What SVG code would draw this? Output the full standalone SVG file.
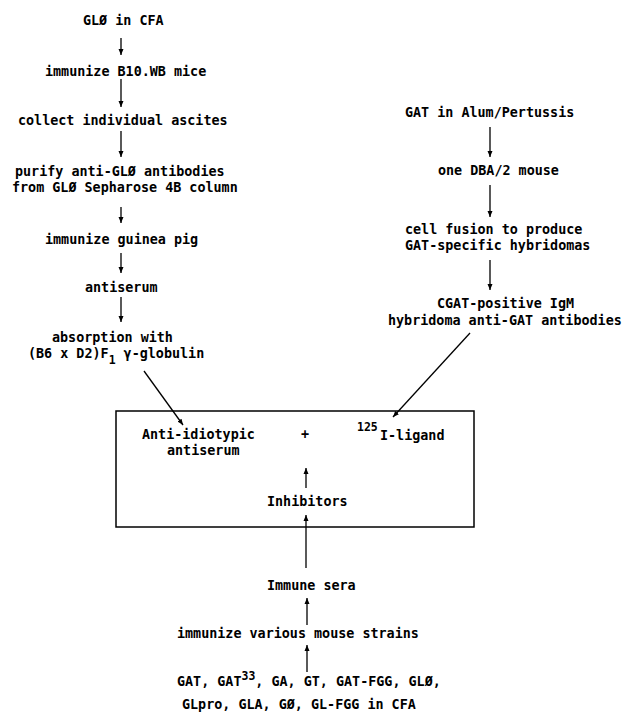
<svg xmlns="http://www.w3.org/2000/svg" width="626" height="717" viewBox="0 0 626 717">
<defs>
<marker id="ah" viewBox="0 0 6 6" refX="6" refY="3" markerWidth="6" markerHeight="6" markerUnits="userSpaceOnUse" orient="auto">
<path d="M0,0.5 L6,3 L0,5.5 z" fill="#000"/>
</marker>
<style>
text{font-family:"DejaVu Sans Mono","Liberation Mono",monospace;font-size:13.4px;font-weight:bold;fill:#000}
.sup{font-size:11.5px}
.c line{stroke:#000;stroke-width:1.3;marker-end:url(#ah)}
.box{fill:none;stroke:#000;stroke-width:1.5}
</style>
</defs>
<rect width="626" height="717" fill="#fff"/>
<g id="n1"><text x="83" y="25">GLØ in CFA</text></g>
<g id="n2"><text x="45" y="76">immunize B10.WB mice</text></g>
<g id="n3"><text x="18" y="125">collect individual ascites</text></g>
<g id="n4"><text x="15" y="176">purify anti-GLØ antibodies</text><text x="12" y="192">from GLØ Sepharose 4B column</text></g>
<g id="n5"><text x="45" y="244">immunize guinea pig</text></g>
<g id="n6"><text x="85" y="292">antiserum</text></g>
<g id="n7"><text x="52" y="342">absorption with</text><text x="28" y="358">(B6 x D2)F<tspan class="sup" dy="6">1</tspan><tspan dy="-6"> γ-globulin</tspan></text></g>
<g id="r1"><text x="405" y="117">GAT in Alum/Pertussis</text></g>
<g id="r2"><text x="438" y="175">one DBA/2 mouse</text></g>
<g id="r3"><text x="405" y="234">cell fusion to produce</text><text x="405" y="250">GAT-specific hybridomas</text></g>
<g id="r4"><text x="437" y="308">CGAT-positive IgM</text><text x="388" y="325">hybridoma anti-GAT antibodies</text></g>
<g id="assay">
<rect class="box" x="116" y="411" width="358" height="116"/>
<text x="142" y="439">Anti-idiotypic</text><text x="167" y="455">antiserum</text>
<text x="301" y="439">+</text>
<text class="sup" x="357" y="431">125</text><text x="380" y="440">I-ligand</text>
<text x="267" y="506">Inhibitors</text>
</g>
<g id="b1"><text x="267" y="590">Immune sera</text></g>
<g id="b2"><text x="177" y="638">immunize various mouse strains</text></g>
<g id="b3"><text x="177" y="686">GAT, GAT<tspan class="sup" dy="-6">33</tspan><tspan dy="6">, GA, GT, GAT-FGG, GLØ,</tspan></text><text x="182" y="709">GLpro, GLA, GØ, GL-FGG in CFA</text></g>
<g id="connectors" class="c">
<line x1="121" y1="38" x2="121" y2="55"/>
<line x1="121" y1="79" x2="121" y2="107"/>
<line x1="121" y1="131" x2="121" y2="157"/>
<line x1="121" y1="207" x2="121" y2="223"/>
<line x1="121" y1="253" x2="121" y2="273"/>
<line x1="121" y1="297" x2="121" y2="322"/>
<line x1="144" y1="371" x2="183" y2="425"/>
<line x1="490" y1="127" x2="490" y2="157"/>
<line x1="490" y1="185" x2="490" y2="217"/>
<line x1="490" y1="260" x2="490" y2="290"/>
<line x1="470" y1="333" x2="393" y2="417"/>
<line x1="306" y1="488" x2="306" y2="468"/>
<line x1="306" y1="568" x2="306" y2="515"/>
<line x1="307" y1="625" x2="307" y2="598"/>
<line x1="307" y1="672" x2="307" y2="645"/>
</g>
</svg>
